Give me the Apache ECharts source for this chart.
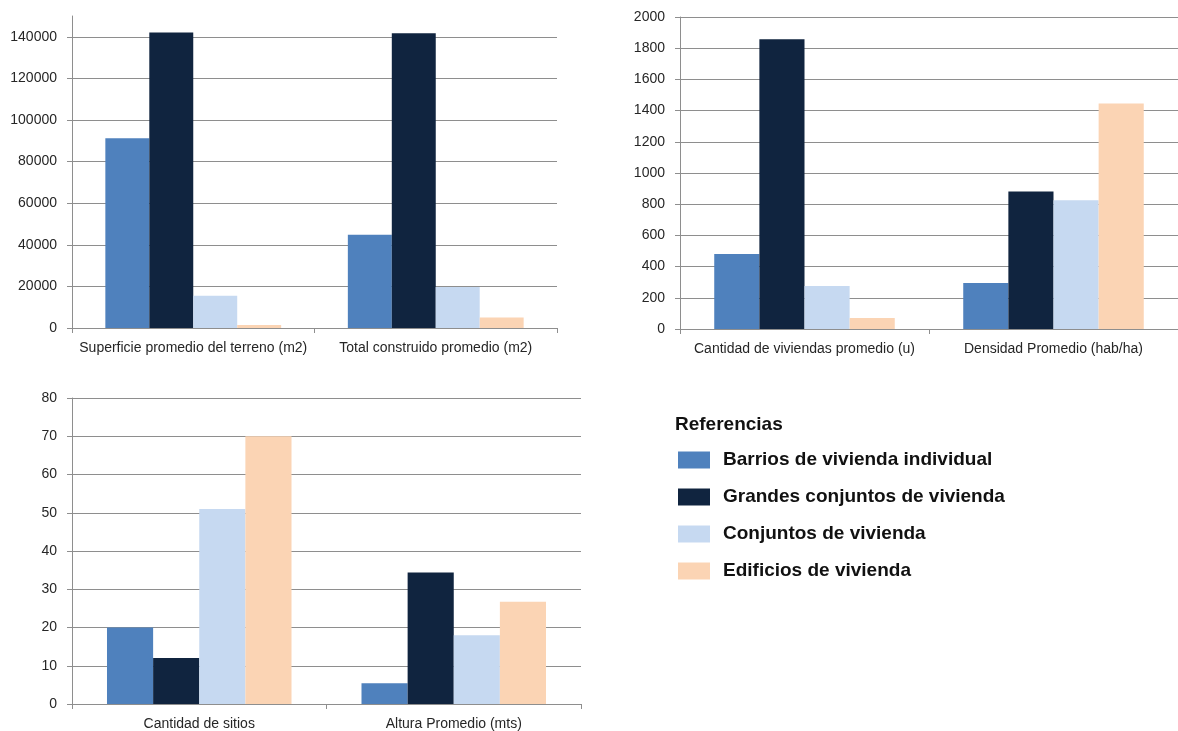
<!DOCTYPE html>
<html>
<head>
<meta charset="utf-8">
<script src="https://cdn.jsdelivr.net/npm/echarts@6/dist/echarts.min.js"></script>
<style>
    html, body { margin: 0; padding: 0; background: #fff; }
    #chart { width: 1178px; height: 731px; }
</style>
</head>
<body>
<div id="chart"></div>
<script>
// tipos de barrio (series)
const tipos = [
    'Barrios de vivienda individual',
    'Grandes conjuntos de vivienda',
    'Conjuntos de vivienda',
    'Edificios de vivienda',
];

// grafico 1: superficies (m2)
const catsSuperficie = ['Superficie promedio del terreno (m2)', 'Total construido promedio (m2)'];
const supBarrios = [91200, 44800];
const supGrandes = [142100, 141700];
const supConjuntos = [15500, 19700];
const supEdificios = [1400, 5100];

// grafico 2: viviendas y densidad
const catsViviendas = ['Cantidad de viviendas promedio (u)', 'Densidad Promedio (hab/ha)'];
const vivBarrios = [480, 295];
const vivGrandes = [1858, 882];
const vivConjuntos = [276, 825];
const vivEdificios = [70, 1445];

// grafico 3: sitios y altura
const catsSitios = ['Cantidad de sitios', 'Altura Promedio (mts)'];
const sitBarrios = [20, 5.4];
const sitGrandes = [12, 34.4];
const sitConjuntos = [51, 18];
const sitEdificios = [70, 26.7];

const palette = ['#4F81BD', '#10243F', '#C6D9F1', '#FBD4B4'];
const gridGray = '#8E8E8E';
const labelFont = '"Liberation Sans", Arial, sans-serif';

function categoryAxis(gridIndex, cats) {
    return {
        type: 'category',
        gridIndex,
        data: cats,
        axisLine: { lineStyle: { color: gridGray, width: 1 } },
        axisTick: { show: true, length: 5, lineStyle: { color: gridGray } },
        axisLabel: {
            interval: 0,
            margin: 13,
            color: '#262626',
            fontSize: 14,
            fontFamily: labelFont,
        },
    };
}

function valueAxis(gridIndex, max, interval, hideMax) {
    return {
        type: 'value',
        gridIndex,
        min: 0,
        max,
        interval,
        axisLine: { show: true, lineStyle: { color: gridGray, width: 1 } },
        axisTick: { show: true, length: 5, lineStyle: { color: gridGray } },
        axisLabel: {
            margin: 15,
            color: '#262626',
            fontSize: 14,
            fontFamily: labelFont,
            showMaxLabel: !hideMax,
            formatter: v => String(v),
        },
        splitLine: {
            show: true,
            showMaxLine: !hideMax,
            lineStyle: { color: gridGray, width: 1 },
        },
    };
}

function barSeries(gridIndex, valueLists) {
    return valueLists.map((values, i) => ({
        name: tipos[i],
        type: 'bar',
        xAxisIndex: gridIndex,
        yAxisIndex: gridIndex,
        data: values,
        barGap: 0,
        barCategoryGap: '27.5%',
        itemStyle: { color: palette[i] },
    }));
}

const chart = echarts.init(document.getElementById('chart'), null, { renderer: 'canvas' });

chart.setOption({
    animation: false,
    title: {
        text: 'Referencias',
        left: 670,
        top: 410,
        textStyle: {
            fontFamily: labelFont,
            fontWeight: 'bold',
            fontSize: 19,
            color: '#111',
        },
    },
    legend: {
        orient: 'vertical',
        left: 673,
        top: 445,
        itemWidth: 32,
        itemHeight: 17,
        itemGap: 17,
        icon: 'rect',
        selectedMode: false,
        data: tipos,
        textStyle: {
            fontFamily: labelFont,
            fontWeight: 'bold',
            fontSize: 19,
            lineHeight: 20,
            color: '#111',
            padding: [0, 0, 0, 8],
        },
    },
    grid: [
        { left: 72, top: 16, width: 485, height: 312 },
        { left: 680, top: 17, width: 498, height: 312 },
        { left: 72, top: 398, width: 509, height: 307 },
    ],
    xAxis: [
        categoryAxis(0, catsSuperficie),
        categoryAxis(1, catsViviendas),
        categoryAxis(2, catsSitios),
    ],
    yAxis: [
        valueAxis(0, 150000, 20000, true),
        valueAxis(1, 2000, 200, false),
        valueAxis(2, 80, 10, false),
    ],
    series: [
        ...barSeries(0, [supBarrios, supGrandes, supConjuntos, supEdificios]),
        ...barSeries(1, [vivBarrios, vivGrandes, vivConjuntos, vivEdificios]),
        ...barSeries(2, [sitBarrios, sitGrandes, sitConjuntos, sitEdificios]),
    ],
});

window.addEventListener('resize', () => chart.resize());
</script>
</body>
</html>
